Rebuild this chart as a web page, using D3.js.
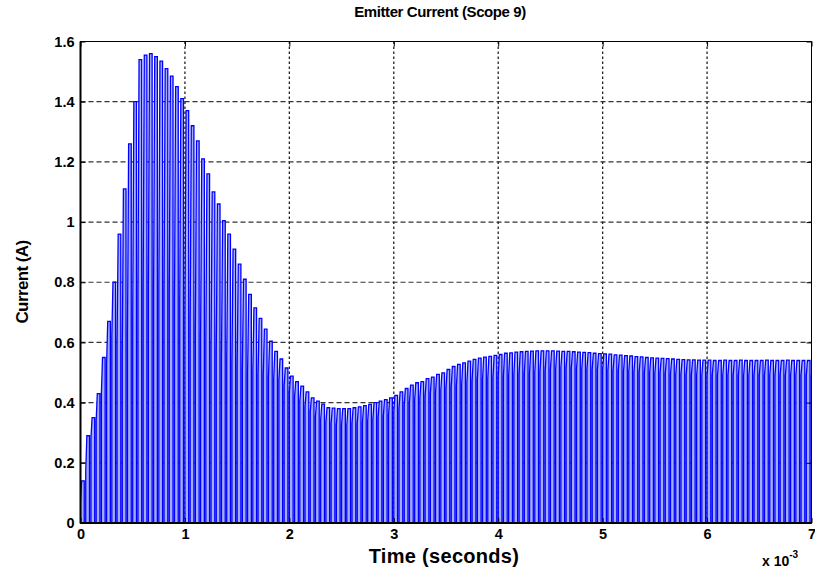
<!DOCTYPE html>
<html><head><meta charset="utf-8">
<script src="https://cdn.jsdelivr.net/npm/d3@7"></script>
<style>body{margin:0;background:#fff;} svg{display:block}</style>
</head><body><svg id="c" width="815" height="568"></svg>
<script>
// ---- data ----
const xTicks = [0, 1, 2, 3, 4, 5, 6, 7];          // time, x 10^-3 s
const yTicks = [0, 0.2, 0.4, 0.6, 0.8, 1, 1.2, 1.4, 1.6];
const switchPeriod = 0.05;   // ms (20 kHz switching)
const onFraction = 0.72;     // duty of each pulse
const riseFraction = 0.3;    // part of the on-interval spent rising from start level to peak
// peak current of each pulse (upper tips)
const pulsePeak = [
 0.14,0.29,0.35,0.43,0.55,0.67,0.80,0.96,1.11,1.26,
 1.40,1.54,1.555,1.56,1.55,1.535,1.51,1.485,1.45,1.41,
 1.37,1.32,1.27,1.21,1.16,1.10,1.06,1.005,0.96,0.91,
 0.86,0.81,0.76,0.715,0.68,0.644,0.604,0.57,0.545,0.515,
 0.488,0.47,0.455,0.436,0.416,0.405,0.395,0.383,0.382,0.38,
 0.38,0.38,0.383,0.386,0.39,0.394,0.40,0.405,0.41,0.416,
 0.424,0.436,0.447,0.458,0.466,0.47,0.48,0.485,0.494,0.499,
 0.51,0.52,0.527,0.532,0.538,0.544,0.548,0.551,0.554,0.557,
 0.56,0.564,0.565,0.568,0.569,0.57,0.571,0.572,0.572,0.572,
 0.572,0.571,0.57,0.57,0.569,0.568,0.567,0.566,0.564,0.563,
 0.562,0.561,0.559,0.558,0.556,0.555,0.553,0.552,0.55,0.549,
 0.548,0.547,0.546,0.545,0.544,0.543,0.542,0.542,0.541,0.541,
 0.541,0.54,0.54,0.541,0.54,0.54,0.541,0.54,0.54,0.54,
 0.54,0.541,0.54,0.54,0.54,0.541,0.54,0.54,0.54,0.54,0.54
];
// current at the start of each on-interval (lower tips)
const pulseStart = [
 0.07,0.17,0.28,0.34,0.43,0.53,0.62,0.60,0.55,0.63,
 0.70,0.75,0.78,0.79,0.79,0.78,0.77,0.76,0.74,0.72,
 0.68,0.66,0.64,0.62,0.60,0.58,0.57,0.55,0.54,0.53,
 0.52,0.51,0.50,0.50,0.49,0.49,0.485,0.48,0.475,0.455,
 0.435,0.42,0.405,0.385,0.37,0.355,0.345,0.335,0.33,0.325,
 0.325,0.325,0.33,0.33,0.335,0.34,0.345,0.35,0.355,0.36,
 0.37,0.38,0.39,0.40,0.41,0.415,0.42,0.43,0.435,0.44,
 0.445,0.45,0.455,0.46,0.465,0.47,0.475,0.478,0.48,0.483,
 0.486,0.488,0.49,0.492,0.494,0.496,0.498,0.50,0.503,0.506,
 0.51,0.512,0.515,0.515,0.514,0.513,0.512,0.511,0.51,0.509,
 0.508,0.507,0.506,0.505,0.504,0.503,0.502,0.501,0.50,0.499,
 0.498,0.497,0.496,0.495,0.494,0.493,0.492,0.492,0.491,0.491,
 0.49,0.49,0.49,0.49,0.49,0.49,0.49,0.49,0.49,0.49,
 0.49,0.49,0.49,0.49,0.49,0.49,0.49,0.49,0.49,0.49,0.49
];

// ---- build ----
const svg = d3.select('#c');
const L = 80.5, R = 811.5, T = 41.5, B = 523;
const x = d3.scaleLinear().domain([0, 7]).range([L, R]);
const y = d3.scaleLinear().domain([0, 1.6]).range([B, T]);
const font = "'Liberation Sans', Arial, sans-serif";

// waveform points
const pts = [[0, 0]];
pulsePeak.forEach((p, i) => {
  const t0 = i * switchPeriod;
  const tr = t0 + riseFraction * onFraction * switchPeriod;
  const t1 = t0 + onFraction * switchPeriod;
  pts.push([t0, 0], [t0, pulseStart[i]], [tr, p], [t1, p], [t1, 0]);
});

svg.append('defs').append('clipPath').attr('id', 'clip')
  .append('rect').attr('x', L).attr('y', T).attr('width', R - L).attr('height', B - T);

// grid
const g = svg.append('g');
g.selectAll('.hg').data(yTicks.filter(v => v > 0 && v < 1.6)).enter().append('line')
  .attr('x1', L).attr('x2', R).attr('y1', d => y(d)).attr('y2', d => y(d))
  .attr('stroke', '#333').attr('stroke-width', 1.2).attr('stroke-dasharray', '5,3');
g.selectAll('.vg').data(xTicks.filter(v => v > 0 && v < 7)).enter().append('line')
  .attr('y1', T).attr('y2', B).attr('x1', d => x(d)).attr('x2', d => x(d))
  .attr('stroke', '#222').attr('stroke-width', 1.3).attr('stroke-dasharray', '2.5,2.5');

const plot = svg.append('g').attr('clip-path', 'url(#clip)');
plot.append('path').datum(pts)
  .attr('d', d3.area().x(d => x(d[0])).y0(y(0)).y1(d => y(d[1])))
  .attr('fill', '#a3acf6');
plot.append('path').datum(pts)
  .attr('d', d3.line().x(d => x(d[0])).y(d => y(d[1])))
  .attr('fill', 'none').attr('stroke', '#0000ff').attr('stroke-width', 1.3);

// axes
const ax = svg.append('g').attr('transform', `translate(0,${B})`)
  .call(d3.axisBottom(x).tickValues(xTicks).tickFormat(d3.format('d')).tickSize(-5).tickPadding(6));
const axT = svg.append('g').attr('transform', `translate(0,${T})`)
  .call(d3.axisTop(x).tickValues(xTicks).tickFormat('').tickSize(-5));
const ay = svg.append('g').attr('transform', `translate(${L},0)`)
  .call(d3.axisLeft(y).tickValues(yTicks).tickFormat(d => d === 0 ? '0' : d3.format('')(d)).tickSize(-5).tickPadding(6));
const ayR = svg.append('g').attr('transform', `translate(${R},0)`)
  .call(d3.axisRight(y).tickValues(yTicks).tickFormat('').tickSize(-5));
[ax, axT, ay, ayR].forEach(a => {
  a.select('.domain').remove();
  a.selectAll('line').attr('stroke', '#000');
  a.selectAll('text').attr('font-family', font).attr('font-size', 14.5)
    .attr('font-weight', 'bold').attr('fill', '#000');
});
svg.append('rect').attr('x', L).attr('y', T).attr('width', R - L).attr('height', B - T)
  .attr('fill', 'none').attr('stroke', '#000').attr('stroke-width', 1);
svg.append('line').attr('x1', L).attr('x2', L).attr('y1', T).attr('y2', B + 0.5)
  .attr('stroke', '#000').attr('stroke-width', 2);
svg.append('line').attr('x1', L).attr('x2', R).attr('y1', B).attr('y2', B)
  .attr('stroke', '#000').attr('stroke-width', 2);

// texts
svg.append('text').attr('x', 440).attr('y', 17).attr('text-anchor', 'middle')
  .attr('font-family', font).attr('font-size', 15).attr('font-weight', 'bold')
  .attr('letter-spacing', '-0.4').text('Emitter Current (Scope 9)');
svg.append('text').attr('x', 444).attr('y', 563).attr('text-anchor', 'middle')
  .attr('font-family', font).attr('font-size', 20).attr('font-weight', 'bold')
  .attr('letter-spacing', '0.3').text('Time (seconds)');
svg.append('text').attr('transform', 'translate(28,282) rotate(-90)').attr('text-anchor', 'middle')
  .attr('font-family', font).attr('font-size', 17).attr('font-weight', 'bold')
  .attr('letter-spacing', '-0.6').text('Current (A)');
const ex = svg.append('text').attr('x', 762).attr('y', 566)
  .attr('font-family', font).attr('font-size', 14).attr('font-weight', 'bold');
ex.append('tspan').text('x 10');
ex.append('tspan').attr('dy', -8).attr('font-size', 10).text('-3');
</script></body></html>
